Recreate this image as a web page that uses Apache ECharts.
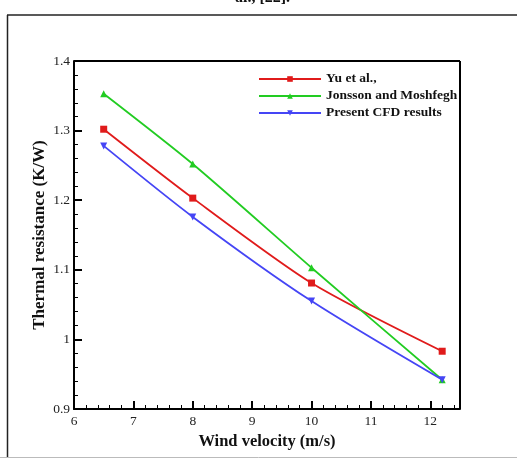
<!DOCTYPE html>
<html><head><meta charset="utf-8">
<script src="https://cdn.jsdelivr.net/npm/echarts@6/dist/echarts.min.js"></script>
<style>html,body{margin:0;padding:0;background:#fff}#c{width:517px;height:459px}</style>
</head><body><div id="c"></div>
<script>
const windVelocity = [6.5, 8, 10, 12.2];
const yuEtAl = [1.302, 1.203, 1.081, 0.983];
const jonssonMoshfegh = [1.353, 1.252, 1.103, 0.942];
const presentCFD = [1.278, 1.176, 1.055, 0.942];
const seriesNames = ['Yu et al.,', 'Jonsson and Moshfegh', 'Present CFD results'];
const xTitle = 'Wind velocity (m/s)';
const yTitle = 'Thermal resistance (K/W)';

const pair = (ys) => windVelocity.map((x, i) => [x, ys[i]]);
const font = '"Liberation Serif", "Times New Roman", serif';
const chart = echarts.init(document.getElementById('c'), null, {renderer: 'canvas'});
const mk = (name, ys, color, symbol, rot) => ({
  name, type: 'line', data: pair(ys), smooth: 0.25,
  symbol, symbolSize: 7, symbolRotate: rot,
  lineStyle: {color, width: 1.8}, itemStyle: {color},
  emphasis: {disabled: true}
});
chart.setOption({
  animation: false,
  textStyle: {fontFamily: font},
  grid: {left: 74, top: 61, right: 57, bottom: 50},
  legend: {
    orient: 'vertical', left: 253, top: 67, itemWidth: 62, itemHeight: 7, itemGap: 3,
    textStyle: {fontFamily: font, fontWeight: 'bold', fontSize: 13.5, color: '#111'},
    data: seriesNames
  },
  xAxis: {
    type: 'value', min: 6, max: 12.5, interval: 1,
    name: xTitle, nameLocation: 'middle', nameGap: 24, nameMoveOverlap: false,
    nameTextStyle: {fontFamily: font, fontWeight: 'bold', fontSize: 16.5, color: '#111'},
    axisLine: {lineStyle: {color: '#000', width: 2}},
    axisTick: {inside: true, length: 8, lineStyle: {color: '#000', width: 2}},
    minorTick: {show: true, splitNumber: 5, length: 4, lineStyle: {color: '#000', width: 1}},
    axisLabel: {fontFamily: font, fontSize: 13.5, color: '#222', margin: 5,
      formatter: v => (v % 1 === 0 ? String(v) : '')},
    splitLine: {show: false}
  },
  yAxis: {
    type: 'value', min: 0.9, max: 1.4, interval: 0.1,
    name: yTitle, nameLocation: 'middle', nameGap: 26, nameMoveOverlap: false,
    nameTextStyle: {fontFamily: font, fontWeight: 'bold', fontSize: 17, color: '#111'},
    axisLine: {show: true, lineStyle: {color: '#000', width: 2}},
    axisTick: {show: true, inside: true, length: 8, lineStyle: {color: '#000', width: 2}},
    minorTick: {show: true, splitNumber: 5, length: 4, lineStyle: {color: '#000', width: 1}},
    axisLabel: {fontFamily: font, fontSize: 13.5, color: '#222', margin: 4,
      formatter: v => String(Math.round(v * 10) / 10)},
    splitLine: {show: false}
  },
  series: [
    mk(seriesNames[0], yuEtAl, '#e01b1b', 'rect', 0),
    mk(seriesNames[1], jonssonMoshfegh, '#22cc22', 'triangle', 0),
    mk(seriesNames[2], presentCFD, '#4545f5', 'triangle', 180)
  ],
  graphic: [
    {type: 'line', shape: {x1: 460, y1: 61, x2: 460, y2: 409}, style: {stroke: '#000', lineWidth: 2}},
    {type: 'line', shape: {x1: 74, y1: 61, x2: 460, y2: 61}, style: {stroke: '#000', lineWidth: 2}},
    {type: 'line', shape: {x1: 7, y1: 15, x2: 517, y2: 15}, style: {stroke: '#222', lineWidth: 1.5}},
    {type: 'line', shape: {x1: 7.5, y1: 15, x2: 7.5, y2: 457}, style: {stroke: '#222', lineWidth: 1.5}},
    {type: 'line', shape: {x1: 0, y1: 457.5, x2: 517, y2: 457.5}, style: {stroke: '#bbb', lineWidth: 1}},
    {type: 'text', left: 235, top: -10, style: {text: 'al., [22].', font: 'bold 16px ' + font, fill: '#111'}}
  ]
});
</script></body></html>
